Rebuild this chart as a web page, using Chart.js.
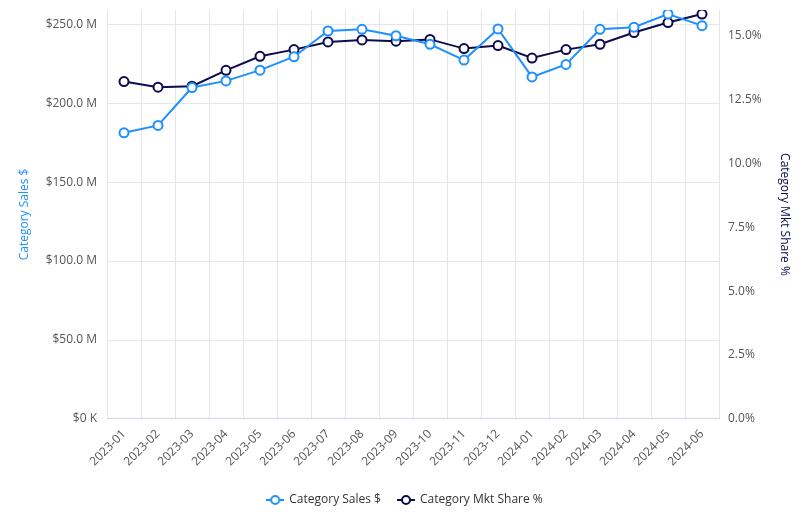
<!DOCTYPE html>
<html>
<head>
<meta charset="utf-8">
<script src="https://cdn.jsdelivr.net/npm/chart.js@4/dist/chart.umd.min.js"></script>
<style>
  html, body { margin: 0; padding: 0; background: #fff; }
  #wrap { width: 810px; height: 526px; position: relative; }
</style>
</head>
<body>
<div id="wrap"><canvas id="chart"></canvas></div>
<script>
var months = ['2023-01','2023-02','2023-03','2023-04','2023-05','2023-06','2023-07','2023-08','2023-09',
  '2023-10','2023-11','2023-12','2024-01','2024-02','2024-03','2024-04','2024-05','2024-06'];

// category sales, $ millions
var salesM = [181.2, 185.9, 209.9, 214.1, 220.9, 229.4, 245.7, 246.8, 242.7,
  237.3, 227.3, 247.0, 216.6, 224.5, 246.8, 248.1, 256.5, 249.1];

// category market share, %
var sharePct = [13.20, 12.98, 13.02, 13.64, 14.19, 14.45, 14.75, 14.83, 14.78,
  14.85, 14.49, 14.61, 14.12, 14.45, 14.66, 15.12, 15.51, 15.84];

var salesTicksM = [0, 50, 100, 150, 200, 250];
var shareTicks = [0, 2.5, 5, 7.5, 10, 12.5, 15];

var blue = '#1e90ff';
var navy = '#0c0c4e';
var font = "'Open Sans', sans-serif";

// small line + circle marker for the legend
function legendMarker(color){
  var c = document.createElement('canvas');
  c.width = 18; c.height = 12;
  var ctx = c.getContext('2d');
  ctx.strokeStyle = color;
  ctx.lineWidth = 2;
  ctx.beginPath();
  ctx.moveTo(0, 6); ctx.lineTo(18, 6);
  ctx.stroke();
  ctx.fillStyle = '#fff';
  ctx.beginPath();
  ctx.arc(9, 6, 4, 0, Math.PI * 2);
  ctx.fill();
  ctx.stroke();
  return c;
}

Chart.defaults.font.family = font;
Chart.defaults.font.size = 12;

new Chart(document.getElementById('chart').getContext('2d'), {
  type: 'line',
  data: {
    labels: months,
    datasets: [
      {
        label: 'Category Sales $',
        data: salesM.map(function(v){ return v * 1e6; }),
        yAxisID: 'y',
        borderColor: blue,
        backgroundColor: '#fff',
        borderWidth: 2,
        pointRadius: 4.5,
        pointBorderWidth: 2,
        pointBackgroundColor: '#fff',
        pointBorderColor: blue,
        tension: 0
      },
      {
        label: 'Category Mkt Share %',
        data: sharePct,
        yAxisID: 'y1',
        borderColor: navy,
        backgroundColor: '#fff',
        borderWidth: 2,
        pointRadius: 4.5,
        pointBorderWidth: 2,
        pointBackgroundColor: '#fff',
        pointBorderColor: navy,
        tension: 0
      }
    ]
  },
  options: {
    responsive: true,
    maintainAspectRatio: false,
    animation: false,
    layout: { padding: { top: 10, bottom: 10, left: 0, right: 0 } },
    plugins: {
      tooltip: { enabled: false },
      legend: {
        position: 'bottom',
        labels: {
          color: '#333',
          padding: 17,
          usePointStyle: true,
          pointStyleWidth: 16,
          font: { size: 12 },
          generateLabels: function(chart){
            var items = Chart.defaults.plugins.legend.labels.generateLabels(chart);
            items.forEach(function(it){
              it.pointStyle = legendMarker(chart.data.datasets[it.datasetIndex].borderColor);
            });
            return items;
          }
        }
      }
    },
    scales: {
      x: {
        offset: true,
        grid: { offset: true, color: '#e6e6e6', drawTicks: false },
        border: { color: '#ccd6eb' },
        ticks: { color: '#555', minRotation: 45, maxRotation: 45, padding: 8, autoSkip: false }
      },
      y: {
        position: 'left',
        min: 0,
        max: 259e6,
        afterFit: function(scale){
          scale.width = 107;
          scale.paddingTop = 0;
          scale.paddingBottom = 0;
        },
        afterBuildTicks: function(scale){
          scale.ticks = salesTicksM.map(function(v){ return { value: v * 1e6 }; });
        },
        grid: { color: '#e6e6e6', drawTicks: false },
        border: { display: false },
        title: { display: true, text: 'Category Sales $', color: blue, padding: { top: 17, bottom: 0 } },
        ticks: {
          color: '#555',
          padding: 10,
          callback: function(v){
            if (v === 0) return '$0 K';
            return '$' + (v / 1e6).toFixed(1) + ' M';
          }
        }
      },
      y1: {
        position: 'right',
        min: 0,
        max: 16,
        afterFit: function(scale){
          scale.width = 91;
          scale.paddingTop = 0;
          scale.paddingBottom = 0;
        },
        afterBuildTicks: function(scale){
          scale.ticks = shareTicks.map(function(v){ return { value: v }; });
        },
        grid: { display: false, drawTicks: false },
        border: { display: false },
        title: { display: true, text: 'Category Mkt Share %', color: navy, padding: { top: 18, bottom: 0 } },
        ticks: {
          color: '#555',
          padding: 9,
          callback: function(v){ return v.toFixed(1) + '%'; }
        }
      }
    }
  }
});
</script>
</body>
</html>
